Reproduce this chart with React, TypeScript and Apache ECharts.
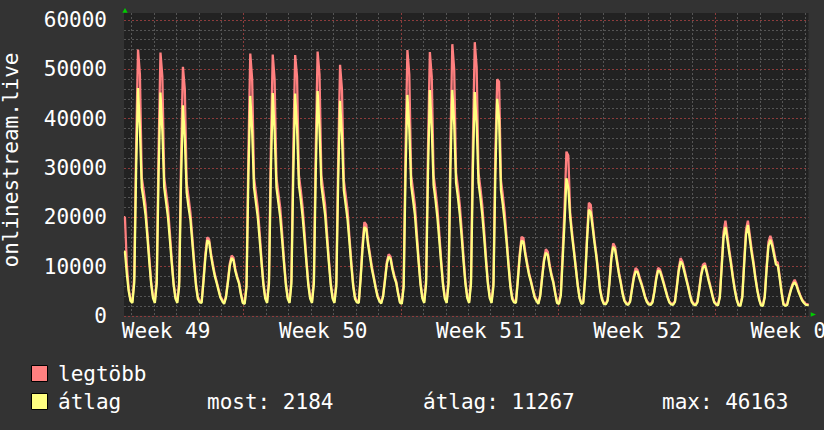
import React, { useEffect, useRef } from "react";
import * as echarts from "echarts";

const FONT = '"DejaVu Sans Mono", "Liberation Mono", monospace';

// Samples are 2 hours apart; hour 0 is the left edge of the plot.
const STEP_H = 2;
const X_MAX = 731.8;
const Y_MAX = 61420;
const FIRST_MIDNIGHT_H = 8;

// "legtöbb" (max) — tail of the previous day, then one row of 12 samples per day
const maxLead = [20000, 10500, 5500, 3200];
const maxDays = [
  [2900, 8000, 35000, 54000, 49000, 28000, 25500, 22500, 17000, 12000, 7000, 4000],
  [2900, 7500, 34000, 53400, 48500, 28000, 25000, 22000, 17000, 11500, 6800, 3900],
  [2900, 7000, 32000, 50500, 46000, 27000, 24000, 21000, 16000, 11000, 6500, 3800],
  [3000, 2900, 7500, 12500, 15900, 15500, 12700, 10500, 8500, 7000, 5500, 4000],
  [3300, 2600, 4000, 7000, 10500, 12200, 11800, 9500, 8000, 6800, 4600, 2800],
  [2600, 6500, 33000, 53200, 48000, 28000, 25000, 22000, 17000, 11500, 6800, 3900],
  [2900, 7500, 34000, 53000, 48000, 28000, 25000, 22000, 17000, 11500, 6800, 3900],
  [2900, 7500, 34000, 52900, 48500, 28500, 25500, 22000, 17000, 11500, 6800, 3900],
  [2900, 7500, 34000, 53600, 49000, 28500, 25500, 22500, 17000, 11500, 6800, 3900],
  [2900, 7000, 32000, 50900, 46000, 27500, 24500, 21500, 16000, 11000, 6500, 3800],
  [3000, 2900, 8000, 14500, 19000, 18500, 15000, 12500, 10000, 8000, 6000, 4200],
  [3300, 2700, 4200, 7500, 11000, 12500, 12000, 9800, 8200, 7000, 4800, 2900],
  [2600, 6500, 34000, 53900, 49000, 28500, 25500, 22500, 17000, 11500, 6800, 3900],
  [2900, 7500, 34000, 53500, 48500, 28500, 25500, 22000, 17000, 11500, 6800, 3900],
  [2900, 7500, 35000, 55100, 50000, 29000, 26000, 22500, 17500, 12000, 7000, 4000],
  [2900, 7500, 35000, 55500, 50500, 29000, 26000, 22500, 17500, 12000, 7000, 4000],
  [2900, 7000, 33000, 48000, 47500, 27500, 24500, 21000, 16000, 11000, 6500, 3800],
  [3000, 2900, 7500, 12500, 16000, 15800, 13000, 10800, 8700, 7200, 5600, 4000],
  [3300, 2600, 4300, 8000, 11500, 13500, 13000, 10500, 8500, 7000, 4800, 2800],
  [2600, 4500, 13000, 22000, 33300, 32500, 21000, 17000, 13500, 10000, 6500, 3800],
  [2600, 2800, 8000, 16000, 22900, 22500, 18800, 15400, 12500, 9000, 5500, 3500],
  [2600, 2500, 3200, 7000, 12000, 14700, 14000, 11500, 9000, 7000, 4800, 3200],
  [2600, 2400, 3000, 5500, 8000, 9700, 9300, 8000, 6800, 5500, 4000, 3000],
  [2500, 2400, 2900, 5000, 7800, 9700, 9400, 8200, 6800, 5400, 4000, 2900],
  [2500, 2400, 3000, 6000, 9500, 11700, 11000, 9500, 7800, 6200, 4400, 3000],
  [2500, 2300, 2900, 5500, 8500, 10400, 10700, 9200, 7500, 6000, 4300, 2900],
  [2500, 2300, 4000, 10500, 17000, 19300, 16500, 13500, 11000, 8000, 5500, 3500],
  [2300, 2200, 4000, 11000, 17500, 19300, 16500, 13500, 11000, 8000, 5500, 3500],
  [2300, 2200, 4000, 10000, 15000, 16200, 15000, 13000, 11000, 10800, 8000, 5000],
  [2500, 2200, 2400, 4000, 5500, 6600, 7300, 6500, 5200, 4200, 3300, 2800],
];
const maxTail = [2400, 2300];

// "átlag" (average)
const avgLead = [13000, 8500, 5000, 3000];
const avgDays = [
  [2600, 6800, 30000, 46200, 38000, 26000, 23500, 20500, 16000, 11000, 6500, 3600],
  [2600, 6500, 29000, 45300, 37500, 26000, 23000, 20000, 15500, 10800, 6300, 3500],
  [2600, 6000, 27500, 42700, 36000, 25000, 22000, 19500, 15000, 10300, 6000, 3400],
  [2700, 2600, 7000, 11800, 15300, 15000, 12200, 10000, 8100, 6700, 5200, 3700],
  [3000, 2400, 3700, 6600, 10000, 11700, 11300, 9100, 7700, 6500, 4300, 2600],
  [2400, 5800, 28500, 44600, 37500, 26000, 23000, 20000, 15500, 10800, 6300, 3500],
  [2600, 6500, 29000, 45200, 37500, 26000, 23000, 20000, 15500, 10800, 6300, 3500],
  [2600, 6500, 29000, 45100, 38000, 26500, 23500, 20000, 15500, 10800, 6300, 3500],
  [2600, 6500, 29000, 45600, 38000, 26500, 23500, 20500, 15500, 10800, 6300, 3500],
  [2600, 6000, 27500, 43600, 36500, 25500, 22500, 19500, 15000, 10300, 6000, 3400],
  [2700, 2600, 7500, 13500, 18000, 17600, 14300, 11900, 9500, 7600, 5700, 3900],
  [3000, 2500, 3900, 7100, 10500, 12000, 11500, 9400, 7800, 6700, 4500, 2700],
  [2400, 5800, 29000, 44800, 38000, 26500, 23500, 20500, 15500, 10800, 6300, 3500],
  [2600, 6500, 29000, 45800, 38000, 26500, 23500, 20000, 15500, 10800, 6300, 3500],
  [2600, 6500, 30000, 45800, 39000, 27000, 24000, 20500, 16000, 11000, 6500, 3600],
  [2600, 6500, 30000, 45400, 39000, 27000, 24000, 20500, 16000, 11000, 6500, 3600],
  [2600, 6000, 28500, 44000, 40000, 25500, 22500, 19000, 15000, 10300, 6000, 3400],
  [2700, 2600, 7000, 11800, 15200, 15000, 12400, 10300, 8300, 6900, 5300, 3700],
  [3000, 2400, 4000, 7600, 11000, 12800, 12400, 10000, 8100, 6700, 4500, 2600],
  [2400, 4100, 11500, 19000, 27900, 26000, 20000, 16200, 13000, 9600, 6200, 3600],
  [2400, 2600, 7500, 15200, 21500, 21000, 18000, 14800, 12000, 8600, 5200, 3300],
  [2400, 2300, 3000, 6600, 11500, 14000, 13400, 11000, 8600, 6700, 4500, 3000],
  [2400, 2200, 2800, 5200, 7600, 9000, 8900, 7600, 6500, 5200, 3800, 2800],
  [2300, 2200, 2700, 4800, 7400, 9200, 9000, 7800, 6500, 5100, 3800, 2700],
  [2300, 2200, 2800, 5700, 9000, 11000, 10500, 9000, 7400, 5900, 4200, 2800],
  [2300, 2100, 2700, 5200, 8100, 9800, 10200, 8800, 7100, 5700, 4100, 2700],
  [2300, 2100, 3700, 9800, 16000, 18000, 15500, 12800, 10400, 7600, 5200, 3300],
  [2100, 2000, 3700, 10300, 16500, 18400, 15600, 12800, 10400, 7600, 5200, 3300],
  [2100, 2000, 3700, 9400, 14200, 15400, 14200, 12300, 10400, 10200, 7600, 4700],
  [2300, 2000, 2200, 3800, 5200, 6300, 6800, 6100, 4900, 4000, 3100, 2600],
];
const avgTail = [2200, 2184];

const weekLabels = ["Week 49", "Week 50", "Week 51", "Week 52", "Week 01"];
const weekLabelHours = [45, 213, 381, 549, 717];
const seriesNames = ["legtöbb", "átlag"];
const seriesColors = ["#ff8080", "#ffff80"];
const statTexts = ["most: 2184", "átlag: 11267", "max: 46163"];
const axisTitle = "onlinestream.live";

export default function App() {
  const ref = useRef<HTMLDivElement>(null);

  useEffect(() => {
    const chart = echarts.init(ref.current!, null, { renderer: "svg" });

    const maxAll = [...maxLead, ...maxDays.flat(), ...maxTail];
    const avgAll = [...avgLead, ...avgDays.flat(), ...avgTail];
    // each sample drawn at the middle of its 2-hour slot; the line is closed to both plot edges
    const toPoints = (vals: number[]) => {
      const p = vals.map((v, i) => [i * STEP_H + STEP_H / 2, v]);
      p.unshift([0, vals[0]]);
      p.push([vals.length * STEP_H, vals[vals.length - 1]]);
      return p;
    };

    const minorDay: number[] = [];
    const majorDay: number[] = [];
    for (let d = 0; d <= 31; d++) {
      const h = FIRST_MIDNIGHT_H + 24 * d;
      if (h > X_MAX) break;
      ((d - 5) % 7 === 0 ? majorDay : minorDay).push(h);
    }
    const yMajor: number[] = [];
    const yMinor: number[] = [];
    for (let v = 0; v <= 60000; v += 2000) (v % 10000 === 0 ? yMajor : yMinor).push(v);

    const gray = { color: "#555555", width: 1, type: [2, 2] };
    const red = { color: "#8c3c3c", width: 1, type: [2, 2] };
    const txt = { fill: "#ffffff", fontSize: 21, fontFamily: FONT };

    const staticGraphics: any[] = [
      {
        type: "text",
        x: 11,
        y: 160,
        rotation: Math.PI / 2,
        style: { ...txt, text: axisTitle, align: "center", verticalAlign: "middle" },
      },
      {
        type: "polygon",
        shape: { points: [[122.3, 12.7], [127.7, 12.7], [125, 8]] },
        style: { fill: "#00cc00" },
      },
      {
        type: "polygon",
        shape: { points: [[810.7, 312.3], [810.7, 316.7], [816, 314.5]] },
        style: { fill: "#00cc00" },
      },
      {
        type: "rect",
        shape: { x: 31.5, y: 365.5, width: 16, height: 16 },
        style: { fill: seriesColors[0], stroke: "#000000", lineWidth: 1 },
      },
      {
        type: "rect",
        shape: { x: 31.5, y: 393.5, width: 16, height: 16 },
        style: { fill: seriesColors[1], stroke: "#000000", lineWidth: 1 },
      },
      {
        type: "text",
        x: 58,
        y: 374,
        style: { ...txt, text: seriesNames[0], align: "left", verticalAlign: "middle" },
      },
      {
        type: "text",
        x: 58,
        y: 402,
        style: { ...txt, text: seriesNames[1], align: "left", verticalAlign: "middle" },
      },
      {
        type: "text",
        x: 207,
        y: 402,
        style: { ...txt, text: statTexts[0], align: "left", verticalAlign: "middle" },
      },
      {
        type: "text",
        x: 423,
        y: 402,
        style: { ...txt, text: statTexts[1], align: "left", verticalAlign: "middle" },
      },
      {
        type: "text",
        x: 662,
        y: 402,
        style: { ...txt, text: statTexts[2], align: "left", verticalAlign: "middle" },
      },
    ];

    chart.setOption({
      animation: false,
      backgroundColor: "#333333",
      textStyle: { fontFamily: FONT },
      grid: {
        left: 124,
        top: 13,
        width: 684.5,
        height: 302.8,
        show: true,
        backgroundColor: "#222222",
        borderWidth: 0,
      },
      xAxis: [
        {
          type: "value",
          min: 0,
          max: X_MAX,
          position: "bottom",
          axisLine: { show: false },
          axisTick: { show: false, customValues: minorDay },
          splitLine: { show: true, lineStyle: gray },
          axisLabel: { show: false },
        },
        {
          type: "value",
          min: 0,
          max: X_MAX,
          position: "bottom",
          axisLine: { show: false },
          axisTick: { show: false, customValues: majorDay },
          splitLine: { show: true, lineStyle: red },
          axisLabel: { show: false },
        },
      ],
      yAxis: [
        {
          type: "value",
          min: 0,
          max: Y_MAX,
          position: "left",
          axisLine: { show: false },
          axisTick: { show: false, customValues: yMajor },
          splitLine: { show: true, lineStyle: red },
          axisLabel: {
            customValues: yMajor,
            formatter: (v: number) => String(v),
            color: "#ffffff",
            fontSize: 21,
            fontFamily: FONT,
            margin: 17,
          },
        },
        {
          type: "value",
          min: 0,
          max: Y_MAX,
          position: "left",
          axisLine: { show: false },
          axisTick: { show: false, customValues: yMinor },
          splitLine: { show: true, lineStyle: gray },
          axisLabel: { show: false },
        },
      ],
      series: [
        {
          type: "line",
          name: seriesNames[0],
          xAxisIndex: 0,
          yAxisIndex: 0,
          data: toPoints(maxAll),
          symbol: "none",
          showSymbol: false,
          lineStyle: { color: seriesColors[0], width: 2.3 },
          z: 3,
          clip: true,
        },
        {
          type: "line",
          name: seriesNames[1],
          xAxisIndex: 0,
          yAxisIndex: 0,
          data: toPoints(avgAll),
          symbol: "none",
          showSymbol: false,
          lineStyle: { color: seriesColors[1], width: 2.3 },
          z: 4,
          clip: true,
        },
      ],
      graphic: staticGraphics,
    });

    // week labels placed through the x axis scale
    const labelGraphics = weekLabelHours.map((h, i) => {
      const px = chart.convertToPixel({ xAxisIndex: 0 }, h) as number;
      return {
        type: "text",
        x: px,
        y: 330.5,
        style: { ...txt, text: weekLabels[i], align: "center", verticalAlign: "middle" },
      };
    });
    chart.setOption({ graphic: [...staticGraphics, ...labelGraphics] });

    return () => chart.dispose();
  }, []);

  return (
    <div
      ref={ref}
      style={{ position: "fixed", left: 0, top: 0, width: 824, height: 430 }}
    />
  );
}
